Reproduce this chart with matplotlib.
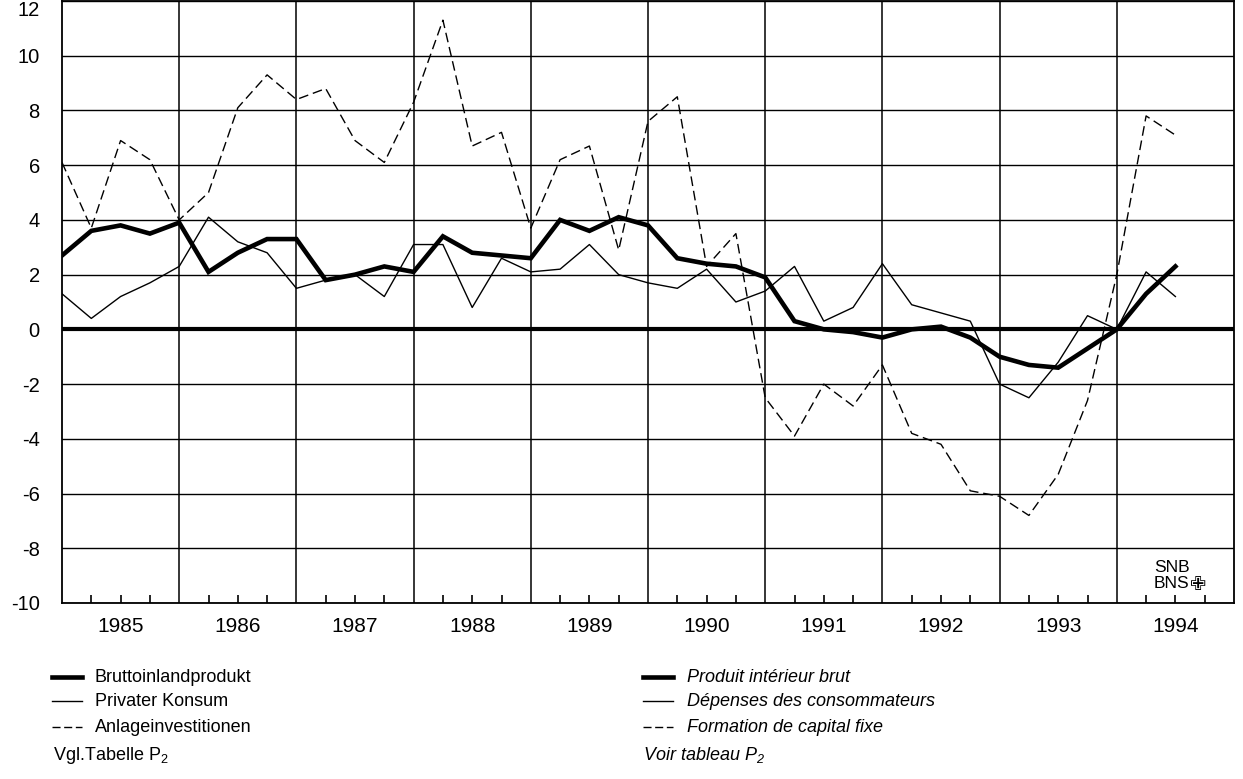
import numpy as np
import matplotlib
matplotlib.use('Agg')
import matplotlib.pyplot as plt
from matplotlib.lines import Line2D

plt.rcParams['font.family'] = ['Liberation Sans', 'DejaVu Sans']
plt.rcParams['axes.unicode_minus'] = False

# ---- data (quarterly growth, 1985Q1 .. 1994Q3) ----
years = [1985, 1986, 1987, 1988, 1989, 1990, 1991, 1992, 1993, 1994]
bip = [2.7, 3.6, 3.8, 3.5, 3.9, 2.1, 2.8, 3.3, 3.3, 1.8, 2.0, 2.3,
       2.1, 3.4, 2.8, 2.7, 2.6, 4.0, 3.6, 4.1, 3.8, 2.6, 2.4, 2.3,
       1.9, 0.3, 0.0, -0.1, -0.3, 0.0, 0.1, -0.3, -1.0, -1.3, -1.4, -0.7,
       0.0, 1.3, 2.3]
konsum = [1.3, 0.4, 1.2, 1.7, 2.3, 4.1, 3.2, 2.8, 1.5, 1.8, 2.0, 1.2,
          3.1, 3.1, 0.8, 2.6, 2.1, 2.2, 3.1, 2.0, 1.7, 1.5, 2.2, 1.0,
          1.4, 2.3, 0.3, 0.8, 2.4, 0.9, 0.6, 0.3, -2.0, -2.5, -1.2, 0.5,
          0.0, 2.1, 1.2]
invest = [6.1, 3.7, 6.9, 6.2, 4.0, 5.0, 8.1, 9.3, 8.4, 8.8, 6.9, 6.1,
          8.3, 11.3, 6.7, 7.2, 3.7, 6.2, 6.7, 2.9, 7.6, 8.5, 2.3, 3.5,
          -2.5, -3.9, -2.0, -2.8, -1.3, -3.8, -4.2, -5.9, -6.1, -6.8, -5.3, -2.6,
          2.0, 7.8, 7.1]
yticks = list(range(-10, 13, 2))
labels_de = ['Bruttoinlandprodukt', 'Privater Konsum', 'Anlageinvestitionen']
labels_fr = ['Produit intérieur brut', 'Dépenses des consommateurs', 'Formation de capital fixe']
note_de = 'Vgl.Tabelle P$\\mathregular{_2}$'
note_fr = 'Voir tableau P$\\mathregular{_2}$'

W, H = 1243, 779
fig = plt.figure(figsize=(W / 100, H / 100), dpi=100)
ax = fig.add_axes([62 / W, 1 - 603 / H, (1234 - 62) / W, (603 - 1) / H])

q = 4
n_q = len(years) * q
x = np.arange(len(bip))

ax.set_xlim(0, n_q)
ax.set_ylim(yticks[0], yticks[-1])

# grid
ax.set_yticks(yticks)
ax.set_yticklabels([str(v) for v in yticks])
ax.yaxis.grid(True, color='black', lw=1.0, zorder=1)
for k in range(1, len(years)):
    ax.axvline(k * q, color='black', lw=1.1, zorder=1)
ax.axhline(0, color='black', lw=3.0, zorder=2)

# x ticks
ax.set_xticks([k * q + q / 2 for k in range(len(years))])
ax.set_xticklabels([str(y) for y in years])
ax.set_xticks([i for i in range(1, n_q) if i % q], minor=True)
ax.xaxis.remove_overlapping_locs = False
ax.tick_params(axis='x', which='major', length=0, pad=10, labelsize=15)
ax.tick_params(axis='x', which='minor', direction='in', length=6, width=1.2)
ax.tick_params(axis='y', length=0, pad=16, labelsize=14.5)
ax.get_yticklabels()[-1].set_va('top')
ax.get_yticklabels()[-1].set_y(yticks[-1] - 0.1)
for s in ax.spines.values():
    s.set_linewidth(1.3)

# series
ax.plot(x, invest, color='black', lw=1.0, dashes=(7, 3.5), zorder=3)
ax.plot(x, konsum, color='black', lw=1.0, zorder=3)
ax.plot(x, bip, color='black', lw=3.3, zorder=4, solid_joinstyle='miter')

# SNB mark
fig.text(1154 / W, 1 - 567 / H, 'SNB', fontsize=12.5, va='center', ha='left')
fig.text(1154 / W, 1 - 584 / H, 'BNS', fontsize=12.5, va='center', ha='left')
fig.text(1190 / W, 1 - 585 / H, '\u2719', fontsize=14, va='center', ha='left', family='DejaVu Sans')

# legends
rows = [677, 701, 727]
styles = [dict(lw=3.3), dict(lw=1.0), dict(lw=1.0, dashes=(5.8, 2.6))]
for r, st, de, fr in zip(rows, styles, labels_de, labels_fr):
    yy = 1 - r / H
    fig.add_artist(Line2D([52 / W, 82 / W], [yy, yy], color='black', **st))
    fig.text(95 / W, yy, de, fontsize=13, va='center', ha='left')
    fig.add_artist(Line2D([643 / W, 673 / W], [yy, yy], color='black', **st))
    fig.text(687 / W, yy, fr, fontsize=13, va='center', ha='left', style='italic')
fig.text(53 / W, 1 - 755 / H, note_de, fontsize=13, va='center', ha='left')
fig.text(643 / W, 1 - 755 / H, note_fr, fontsize=13, va='center', ha='left', style='italic')

fig.savefig('out.png', dpi=100)
